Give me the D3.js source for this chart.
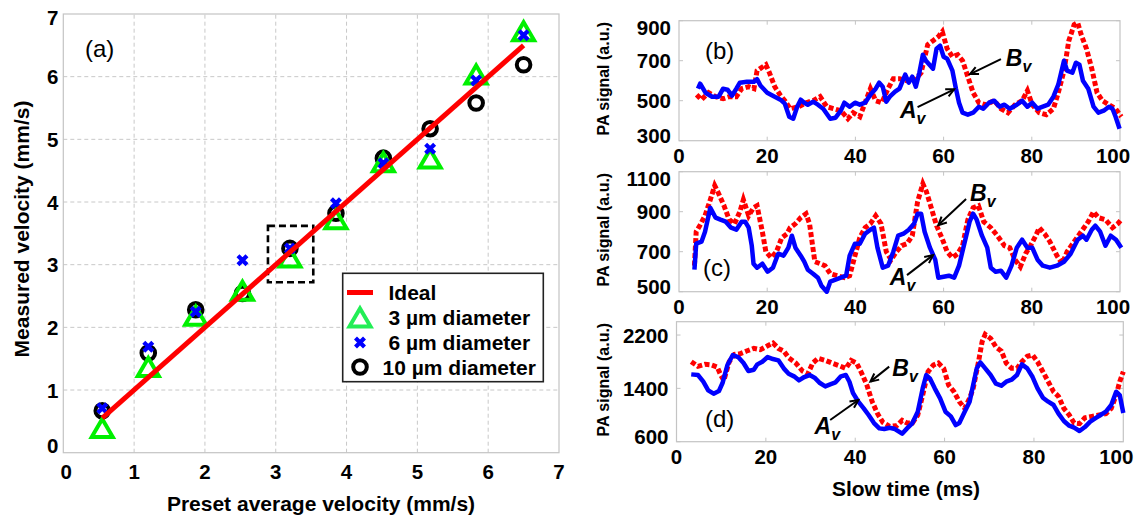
<!DOCTYPE html>
<html><head><meta charset="utf-8">
<script src="https://cdn.jsdelivr.net/npm/d3@7"></script>
<style>
body{margin:0;background:#fff}
text{font-family:"Liberation Sans",Arial,Helvetica,sans-serif}
</style>
</head><body>
<svg id="chart" width="1134" height="515"></svg>
<script>
// ---------------- Panel (a) data ----------------
const presetVelocity = [0.55, 1.2, 1.87, 2.53, 3.2, 3.85, 4.52, 5.18, 5.83, 6.5];
const measured3um  = [0.38, 1.35, 2.17, 2.57, 3.10, 3.71, 4.62, 4.68, 6.02, 6.71];
const measured6um  = [0.71, 1.69, 2.25, 3.07, 3.26, 3.98, 4.62, 4.85, 5.94, 6.66];
const measured10um = [0.67, 1.59, 2.28, 2.54, 3.26, 3.82, 4.70, 5.17, 5.58, 6.19];
const idealRange = [0.55, 6.5];
const zoomBoxX = [2.89, 3.53];
const zoomBoxY = [2.72, 3.62];
const ticksA = [0, 1, 2, 3, 4, 5, 6, 7];
const legendLabels = ["Ideal", "3 \u00b5m diameter", "6 \u00b5m diameter", "10 \u00b5m diameter"];

// ---------------- Panels (b)-(d) data: [slow time (ms), PA signal] ----------------
const bAv = [[4.3,560],[4.8,585],[6,540],[7.5,520],[9,520],[10,560],[11,555],[12,525],[13,560],[13.8,590],[15.4,595],[17,595],[17.7,608],[18.5,575],[20,540],[21.7,520],[23,505],[24,485],[25,420],[25.9,410],[26.8,470],[27.6,505],[28.4,490],[29.2,480],[30.4,495],[31.5,480],[32.7,460],[34.3,410],[35.5,415],[36.7,450],[37.5,490],[38.7,470],[39.9,490],[41,480],[42.2,490],[43.4,530],[44.6,560],[45.4,590],[46.2,570],[47,495],[47.8,520],[49,545],[50,560],[51.3,630],[52.1,590],[52.9,620],[53.7,570],[54.5,640],[55.3,730],[56,700],[56.8,680],[57.6,660],[58.4,760],[59.2,775],[60,720],[60.8,710],[62,650],[62.8,560],[63.5,490],[64.3,440],[65.5,430],[66.7,440],[68,470],[69,460],[70.3,490],[71.5,500],[72.7,470],[73.8,480],[75,460],[76.6,480],[77.8,500],[79,470],[80.1,490],[81.3,460],[82.5,470],[83.7,480],[84.9,520],[86,580],[87.3,700],[88,650],[89.2,640],[90,690],[90.8,680],[91.6,600],[92.8,560],[94,470],[95.1,440],[96.3,450],[97.5,470],[98.3,460],[99,420],[99.9,360]];
const bBv = [[4,530],[5.1,505],[6.7,540],[8.3,520],[10,510],[11.4,520],[13,520],[14.2,560],[15.8,570],[17,560],[17.7,650],[19,670],[19.7,680],[20.5,640],[21.7,570],[22.9,530],[24,500],[25.2,460],[27.2,470],[28.8,490],[30.4,500],[32,520],[33.5,470],[35.1,460],[36.7,450],[38.3,410],[39.5,440],[41,420],[42.2,490],[43.4,560],[44.6,500],[46,490],[47.4,560],[48.6,610],[50,610],[51.7,600],[53.3,600],[54.9,640],[56.4,780],[57.6,800],[58.8,820],[59.7,845],[60.8,760],[62,720],[63.2,730],[64.3,700],[65.5,620],[66.7,540],[68,490],[69.5,480],[71.5,500],[73,460],[74.6,440],[76.2,480],[77.8,500],[79,550],[80.1,480],[81.7,440],[83.3,430],[84.9,460],[86,540],[87.3,650],[88.4,800],[89.6,880],[90.4,890],[91.2,830],[92.4,760],[93.6,660],[94.8,540],[96,500],[97.5,480],[99,460],[100.3,420]];
const cAv = [[3.5,610],[3.9,740],[5.1,750],[5.9,800],[7.1,920],[8.3,870],[9.4,860],[10.6,850],[11.8,820],[13,810],[14.2,850],[15,850],[15.8,820],[16.5,730],[16.9,640],[17.7,620],[18.9,640],[20.1,600],[21.3,620],[22.5,690],[23.7,680],[24.8,720],[25.6,780],[26.4,720],[27.6,680],[28.4,650],[29.2,610],[30.4,590],[31.5,570],[32.3,530],[33.5,500],[34.3,550],[35.5,560],[36.7,570],[37.9,580],[38.7,680],[39.9,740],[41,740],[42.2,790],[43.4,810],[44.2,820],[45,720],[46.2,620],[47.4,630],[48.6,700],[49.7,780],[50.9,790],[52.1,810],[53.3,840],[54.1,890],[54.9,890],[55.7,800],[56.9,720],[58.1,660],[58.8,570],[60,575],[61.2,580],[62.4,570],[63.5,630],[64.7,740],[65.9,850],[66.7,890],[67.5,860],[68.7,780],[69.9,720],[70.7,620],[71.8,600],[73,605],[74.2,570],[75.4,630],[76.6,720],[77.8,760],[79,720],[80.1,720],[81.3,660],[82.5,630],[84.1,620],[85.7,630],[87.3,650],[88.8,690],[90.4,760],[91.6,780],[92.4,760],[93.6,810],[94.4,830],[95.5,800],[96.7,730],[97.9,780],[99.1,760],[100.3,720]];
const cBv = [[3.5,630],[3.9,800],[4.7,830],[5.9,880],[7.1,960],[8.1,1030],[9,990],[10.2,930],[11.4,860],[12.6,840],[13.8,900],[14.6,960],[15.8,880],[16.9,920],[17.7,930],[18.9,800],[19.7,700],[20.9,670],[22.1,700],[23.3,770],[24.5,790],[25.2,820],[26.4,840],[27.6,870],[28.8,890],[29.6,840],[30.8,650],[32,640],[33.1,630],[34.3,590],[35.9,580],[37.5,570],[38.7,580],[39.9,680],[41,770],[42.2,820],[43.4,840],[44.6,880],[45.8,840],[47,700],[48.1,660],[49.3,700],[50.5,730],[51.7,740],[52.9,780],[54.1,950],[55.3,1040],[56.1,1000],[57.2,920],[58.4,830],[59.6,770],[60.8,700],[62,670],[63.2,690],[64.3,730],[65.5,860],[66.7,920],[67.9,930],[69.1,850],[70.7,820],[72.2,780],[73.8,730],[75,720],[76.2,660],[77.4,625],[78.6,690],[79.7,730],[80.9,780],[81.7,820],[82.9,790],[84.1,750],[85.7,680],[86.9,640],[88,700],[89.6,750],[91.2,800],[92.8,850],[94,900],[95.1,870],[96.7,860],[98.3,820],[99.5,840],[100.3,860]];
const dAv = [[3.3,1610],[4.8,1600],[6,1500],[7.1,1370],[8.3,1320],[9.5,1360],[10.3,1480],[11.4,1750],[12.6,1900],[13.8,1870],[15,1780],[16.1,1660],[17.3,1680],[18.1,1760],[19.2,1800],[20.4,1870],[21.6,1840],[22.8,1820],[24,1700],[25.1,1620],[26.3,1580],[27.4,1520],[28.6,1570],[29.8,1600],[30.9,1560],[32.1,1480],[33.3,1430],[34.4,1460],[35.6,1490],[36.8,1580],[37.9,1600],[38.7,1500],[39.5,1330],[40.7,1200],[41.9,1100],[43,1000],[44.2,880],[45.4,800],[46.5,790],[47.7,810],[48.9,790],[50.5,720],[51.6,800],[52.8,880],[54,1050],[55.1,1400],[55.9,1600],[56.7,1550],[57.8,1400],[59,1250],[60.2,1050],[61.4,980],[62.5,850],[63.3,880],[64.5,1050],[65.6,1200],[66.4,1450],[67.2,1700],[68,1790],[69.1,1700],[70.3,1600],[71.5,1470],[72.7,1440],[73.8,1500],[75,1530],[76.2,1600],[77.3,1760],[78.5,1700],[79.7,1570],[80.8,1400],[82,1260],[83.2,1200],[84.4,1150],[85.5,1020],[86.7,910],[87.9,840],[89,810],[90.2,760],[91.4,820],[92.6,900],[93.7,950],[94.9,1000],[96.1,1050],[97.3,1150],[98.4,1350],[99.2,1300],[100,1030]];
const dBv = [[3.3,1800],[4.8,1730],[6.4,1760],[7.9,1750],[9.1,1720],[9.9,1600],[10.6,1520],[11.8,1800],[13,1910],[14.2,1920],[15.7,1960],[17.3,2000],[18.8,1980],[20.4,2040],[21.6,2080],[22.8,2000],[24,1960],[25.1,1860],[26.7,1780],[28.2,1660],[29.4,1620],[30.5,1780],[31.7,1850],[33.3,1820],[34.8,1780],[36.4,1740],[37.9,1700],[39.1,1820],[40.3,1780],[41.5,1620],[42.6,1450],[43.8,1200],[45,1020],[46.2,890],[47.7,830],[49.3,840],[50.5,920],[51.6,880],[52.8,880],[54,1000],[55.1,1300],[56.3,1650],[57.5,1750],[58.6,1780],[59.8,1700],[60.9,1450],[62.1,1350],[63.3,1200],[64.5,1100],[65.6,1250],[66.4,1400],[67.6,1800],[68.4,2100],[69.1,2210],[70.3,2150],[71.5,2020],[72.7,1960],[73.8,1780],[75,1700],[76.2,1700],[77.3,1800],[78.5,1880],[79.7,1900],[80.8,1800],[82,1650],[83.2,1500],[84.4,1350],[85.5,1280],[86.7,1100],[87.9,1000],[89,880],[90.2,870],[91.4,960],[93,980],[94.6,1000],[96.1,1020],[97.3,1100],[98.4,1300],[99.2,1500],[100,1650]];
const timeTicks = [0, 20, 40, 60, 80, 100];
const bTicks = [300, 500, 700, 900];
const cTicks = [500, 700, 900, 1100];
const dTicks = [600, 1400, 2200];
const panelNames = ["(b)", "(c)", "(d)"];
// annotation anchors in data coords: [textT, textV, arrowFromT, arrowFromV, arrowToT, arrowToV]
const bAnnB = [74.1, 713, 73.0, 708, 66.0, 633];
const bAnnA = [50.1, 453, 54.1, 468, 62.4, 557];
const cAnnB = [66.0, 993, 65.1, 963, 58.8, 833];
const cAnnA = [47.8, 573, 51.7, 583, 57.6, 683];
const dAnnB = [48.3, 1702, 47.6, 1726, 43.4, 1501];
const dAnnA = [30.9, 836, 34.4, 926, 40.7, 1226];

// ---------------- Drawing ----------------
const svg = d3.select("#chart");
const FONT_BOLD = 700;
const boxColor = "#c4c4c4";

// ===== Panel (a) =====
const xa = d3.scaleLinear().domain([0, 7]).range([63.3, 559]);
const ya = d3.scaleLinear().domain([0, 7]).range([452.7, 14]);
const ga = svg.append("g");

ticksA.filter(t => t > 0 && t < 7).forEach(t => {
  ga.append("line").attr("x1", xa(t)).attr("x2", xa(t)).attr("y1", ya(0)).attr("y2", ya(7))
    .attr("stroke", "#c8c8c8").attr("stroke-width", 1).attr("stroke-dasharray", "4,3");
  ga.append("line").attr("x1", xa(0)).attr("x2", xa(7)).attr("y1", ya(t)).attr("y2", ya(t))
    .attr("stroke", "#c8c8c8").attr("stroke-width", 1).attr("stroke-dasharray", "4,3");
});
ga.append("rect").attr("x", xa(0)).attr("y", ya(7)).attr("width", xa(7) - xa(0)).attr("height", ya(0) - ya(7))
  .attr("fill", "none").attr("stroke", boxColor).attr("stroke-width", 1.2);

ga.selectAll(".xt").data(ticksA).join("text")
  .attr("x", d => Math.max(xa(d), xa(0) + 3)).attr("y", ya(0) + 19)
  .attr("text-anchor", "middle").attr("dominant-baseline", "central")
  .attr("font-size", 20.5).attr("font-weight", FONT_BOLD).text(d => d);
ga.selectAll(".yt").data(ticksA).join("text")
  .attr("x", xa(0) - 5).attr("y", d => Math.min(Math.max(ya(d), ya(7) + 3), ya(0) - 7))
  .attr("text-anchor", "end").attr("dominant-baseline", "central")
  .attr("font-size", 20.5).attr("font-weight", FONT_BOLD).text(d => d);

ga.append("text").attr("x", 321).attr("y", 503).attr("text-anchor", "middle").attr("dominant-baseline", "central")
  .attr("font-size", 21).attr("font-weight", FONT_BOLD).text("Preset average velocity (mm/s)");
ga.append("text").attr("transform", "translate(21.5,229) rotate(-90)").attr("text-anchor", "middle")
  .attr("dominant-baseline", "central").attr("font-size", 21).attr("font-weight", FONT_BOLD)
  .text("Measured velocity (mm/s)");
ga.append("text").attr("x", 85).attr("y", 48).attr("dominant-baseline", "central")
  .attr("font-size", 24).text("(a)");

ga.append("rect").attr("x", xa(zoomBoxX[0])).attr("y", ya(zoomBoxY[1]))
  .attr("width", xa(zoomBoxX[1]) - xa(zoomBoxX[0])).attr("height", ya(zoomBoxY[0]) - ya(zoomBoxY[1]))
  .attr("fill", "none").attr("stroke", "#000").attr("stroke-width", 2.6).attr("stroke-dasharray", "7,4");

const triPath = "M0,-10L10.5,8L-10.5,8Z";
const crossPath = "M-4.5,-4.5L4.5,4.5M-4.5,4.5L4.5,-4.5";
const green = "#00f000";

ga.selectAll(".c10").data(presetVelocity).join("circle")
  .attr("cx", d => xa(d)).attr("cy", (d, i) => ya(measured10um[i])).attr("r", 6.8)
  .attr("fill", "none").attr("stroke", "#000").attr("stroke-width", 4);
ga.selectAll(".t3").data(presetVelocity).join("path")
  .attr("transform", (d, i) => `translate(${xa(d)},${ya(measured3um[i])})`).attr("d", triPath)
  .attr("fill", "none").attr("stroke", green).attr("stroke-width", 4).attr("stroke-linejoin", "miter");
ga.selectAll(".x6").data(presetVelocity).join("path")
  .attr("transform", (d, i) => `translate(${xa(d)},${ya(measured6um[i])})`).attr("d", crossPath)
  .attr("fill", "none").attr("stroke", "#0000ff").attr("stroke-width", 4.2);
ga.append("line").attr("x1", xa(idealRange[0])).attr("y1", ya(idealRange[0]))
  .attr("x2", xa(idealRange[1])).attr("y2", ya(idealRange[1]))
  .attr("stroke", "#ff0000").attr("stroke-width", 5);

// legend
const lg = ga.append("g");
lg.append("rect").attr("x", 342.7).attr("y", 273.3).attr("width", 200.6).attr("height", 108.4)
  .attr("fill", "#fff").attr("stroke", "#222").attr("stroke-width", 1.6);
const rowY = [292.5, 317.5, 342.5, 367];
lg.append("line").attr("x1", 347).attr("x2", 373).attr("y1", rowY[0]).attr("y2", rowY[0])
  .attr("stroke", "#ff0000").attr("stroke-width", 5);
lg.append("path").attr("transform", `translate(360,${rowY[1] + 1})`).attr("d", triPath)
  .attr("fill", "none").attr("stroke", "#22ee55").attr("stroke-width", 4);
lg.append("path").attr("transform", `translate(360,${rowY[2]})`).attr("d", crossPath)
  .attr("fill", "none").attr("stroke", "#0000ff").attr("stroke-width", 4.2);
lg.append("circle").attr("cx", 360).attr("cy", rowY[3]).attr("r", 6.8)
  .attr("fill", "none").attr("stroke", "#000").attr("stroke-width", 4);
lg.selectAll(".lt").data(legendLabels).join("text")
  .attr("x", (d, i) => i === 3 ? 382.5 : 388.5).attr("y", (d, i) => rowY[i])
  .attr("dominant-baseline", "central").attr("font-size", 21).attr("font-weight", FONT_BOLD)
  .text(d => d);

// ===== Panels (b)-(d) =====
const panels = [
  { a: bAv, b: bBv, ticks: bTicks, dom: [300, 900], xr: [679, 1120], yr: [140.7, 20.7], ann: [bAnnB, bAnnA], lbl: [705, 50] },
  { a: cAv, b: cBv, ticks: cTicks, dom: [500, 1100], xr: [679, 1120], yr: [291.7, 171.7], ann: [cAnnB, cAnnA], lbl: [703, 267] },
  { a: dAv, b: dBv, ticks: dTicks, dom: [600, 2400], xr: [676.5, 1123.3], yr: [441.7, 321.7], ann: [dAnnB, dAnnA], lbl: [705, 418] }
];

panels.forEach((p, k) => {
  const x = d3.scaleLinear().domain([0, 100]).range(p.xr);
  const y = d3.scaleLinear().domain(p.dom).range(p.yr);
  const g = svg.append("g");
  const [x0, x1] = p.xr, [yb, yt] = p.yr;

  g.append("rect").attr("x", x0).attr("y", yt).attr("width", x1 - x0).attr("height", yb - yt)
    .attr("fill", "none").attr("stroke", boxColor).attr("stroke-width", 1.2);
  timeTicks.filter(t => t > 0 && t < 100).forEach(t => {
    g.append("line").attr("x1", x(t)).attr("x2", x(t)).attr("y1", yb).attr("y2", yb - 4).attr("stroke", boxColor);
    g.append("line").attr("x1", x(t)).attr("x2", x(t)).attr("y1", yt).attr("y2", yt + 4).attr("stroke", boxColor);
  });
  p.ticks.forEach(v => {
    g.append("line").attr("x1", x0).attr("x2", x0 + 4).attr("y1", y(v)).attr("y2", y(v)).attr("stroke", boxColor);
    g.append("line").attr("x1", x1).attr("x2", x1 - 4).attr("y1", y(v)).attr("y2", y(v)).attr("stroke", boxColor);
  });

  g.selectAll(".xt").data(timeTicks).join("text")
    .attr("x", d => Math.min(x(d), x1 - 7)).attr("y", yb + 14.5)
    .attr("text-anchor", "middle").attr("dominant-baseline", "central")
    .attr("font-size", 20.5).attr("font-weight", FONT_BOLD).text(d => d);
  g.selectAll(".yt").data(p.ticks).join("text")
    .attr("x", x0 - 8).attr("y", d => Math.min(Math.max(y(d), yt + 7), yb - 5))
    .attr("text-anchor", "end").attr("dominant-baseline", "central")
    .attr("font-size", 20.5).attr("font-weight", FONT_BOLD).text(d => d);

  g.append("text").attr("transform", `translate(603.5,${(yb + yt) / 2 - 2}) rotate(-90)`)
    .attr("text-anchor", "middle").attr("dominant-baseline", "central")
    .attr("font-size", 16).attr("font-weight", FONT_BOLD).text("PA signal (a.u.)");

  g.append("text").attr("x", p.lbl[0]).attr("y", p.lbl[1]).attr("dominant-baseline", "central")
    .attr("font-size", 24).text(panelNames[k]);

  const line = d3.line().x(d => x(d[0])).y(d => y(d[1]));
  g.append("path").attr("d", line(p.b)).attr("fill", "none").attr("stroke", "#ff0000")
    .attr("stroke-width", 5).attr("stroke-dasharray", "5,2.5");
  g.append("path").attr("d", line(p.a)).attr("fill", "none").attr("stroke", "#0000ff")
    .attr("stroke-width", 4.5).attr("stroke-linejoin", "round");

  ["B", "A"].forEach((letter, j) => {
    const an = p.ann[j];
    const t = g.append("text").attr("x", x(an[0])).attr("y", y(an[1]) + 8)
      .attr("font-size", 23).attr("font-weight", FONT_BOLD).attr("font-style", "italic");
    t.append("tspan").text(letter);
    t.append("tspan").attr("dy", 6).attr("font-size", 16).text("v");
    const fx = x(an[2]), fy = y(an[3]), tx = x(an[4]), ty = y(an[5]);
    g.append("line").attr("x1", fx).attr("y1", fy).attr("x2", tx).attr("y2", ty)
      .attr("stroke", "#000").attr("stroke-width", 2);
    const ang = Math.atan2(ty - fy, tx - fx), L = 9, w = 0.45;
    g.append("path").attr("d",
      `M${tx - L * Math.cos(ang - w)},${ty - L * Math.sin(ang - w)}L${tx},${ty}L${tx - L * Math.cos(ang + w)},${ty - L * Math.sin(ang + w)}`)
      .attr("fill", "none").attr("stroke", "#000").attr("stroke-width", 2);
  });
});

svg.append("text").attr("x", 906).attr("y", 488.5).attr("text-anchor", "middle").attr("dominant-baseline", "central")
  .attr("font-size", 21).attr("font-weight", FONT_BOLD).text("Slow time (ms)");
</script>
</body></html>
